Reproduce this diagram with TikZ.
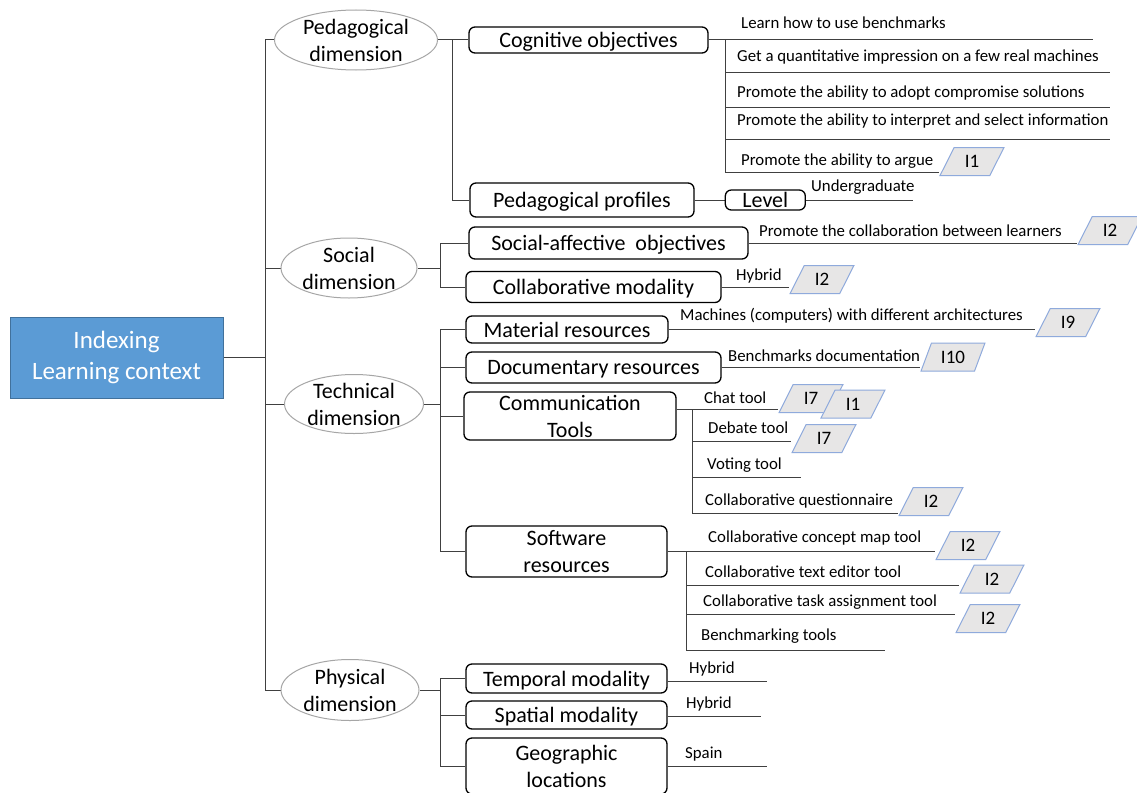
\documentclass[tikz,border=0pt]{standalone}
\usepackage{fontspec}
\setmainfont{Carlito}
\usetikzlibrary{positioning, shapes.geometric, backgrounds}
\definecolor{rootblue}{HTML}{5B9BD5}
\definecolor{rootedge}{HTML}{41719C}
\definecolor{lngray}{HTML}{404040}
\definecolor{ellgray}{HTML}{A6A6A6}
\definecolor{tagblue}{HTML}{8FAADC}
\definecolor{taggray}{HTML}{E7E6E6}
\newcommand{\fsR}{\fontsize{25}{31}\selectfont}
\newcommand{\fsB}{\fontsize{22}{27}\selectfont}
\newcommand{\fsS}{\fontsize{16.8}{20}\selectfont}
\newcommand{\fsT}{\fontsize{19}{22}\selectfont}
\tikzset{
  ln/.style      = {draw=lngray, line width=1pt},
  rootbox/.style = {rectangle, draw=rootedge, fill=rootblue, text=white, line width=1pt,
                    font=\fsR, align=center, inner sep=0pt, minimum width=213pt, minimum height=81pt},
  dimen/.style   = {ellipse, draw=ellgray, fill=white, line width=1pt, inner sep=0pt},
  dimtxt/.style  = {font=\fsB, align=center, inner sep=0pt},
  box/.style     = {draw=black, fill=white, rounded corners=6pt, line width=1.3pt, inner sep=0pt,
                    font=\fsB, align=center},
  box1/.style    = {box, text depth=0pt},
  itm/.style     = {anchor=west, font=\fsS, inner sep=0pt},
  tag/.style     = {trapezium, trapezium left angle=65, trapezium right angle=115,
                    trapezium stretches=true, draw=tagblue, fill=taggray, line width=1pt,
                    minimum width=64pt, minimum height=28pt, inner sep=0pt, font=\fsT},
}

\begin{document}
\begin{tikzpicture}[x=1pt, y=-1pt]
\useasboundingbox (0,0) rectangle (1137,792);
\clip (0,0) rectangle (1137,792);

% root and the four dimensions
\node[rootbox] (root) at (116.5,357.5) {Indexing\\Learning context};
\node[dimen, minimum width=163pt, minimum height=60pt,
      label={[dimtxt]center:Pedagogical\\dimension}] (ped)  at (356,40)  {};
\node[dimen, minimum width=136pt, minimum height=60pt,
      label={[dimtxt]center:Social\\dimension}]      (soc)  at (349,268) {};
\node[dimen, minimum width=139pt, minimum height=59pt,
      label={[dimtxt]center:Technical\\dimension}]   (tech) at (354,404) {};
\node[dimen, minimum width=138pt, minimum height=61pt,
      label={[dimtxt]center:Physical\\dimension}]    (phys) at (350,690) {};

% pedagogical
\node[box1, minimum width=239pt, minimum height=26pt] (cog)  at (588.5,40)  {Cognitive objectives};
\node[box1, minimum width=224pt, minimum height=34pt] (prof) at (582,200)   {Pedagogical profiles};
\node[box1, minimum width=80pt,  minimum height=20pt, right=30pt of prof] (lvl) {Level};
\node[itm] (cg1) at (741,23)  {Learn how to use benchmarks};
\node[itm] (cg2) at (737,57)  {Get a quantitative impression on a few real machines};
\node[itm] (cg3) at (737,93)  {Promote the ability to adopt compromise solutions};
\node[itm] (cg4) at (737,121) {Promote the ability to interpret and select information};
\node[itm] (cg5) at (741,161) {Promote the ability to argue};
\node[tag] (i1a) at (972,161.5) {I1};
\node[itm] (ug)  at (811,187) {Undergraduate};

% social
\node[box1, minimum width=279pt, minimum height=32pt] (sae)  at (608.5,243) {Social-affective\ \ objectives};
\node[box1, minimum width=255pt, minimum height=31pt] (cmod) at (593.5,287) {Collaborative modality};
\node[itm] (col) at (759,231) {Promote the collaboration between learners};
\node[tag] (i2a) at (1110,230.5) {I2};
\node[itm] (hyb) at (736,276) {Hybrid};
\node[tag] (i2b) at (822,279.5) {I2};

% technical
\node[box1, minimum width=202pt, minimum height=27pt] (mat)  at (567,329.5)   {Material resources};
\node[box1, minimum width=255pt, minimum height=31pt] (doc)  at (593.5,367.5) {Documentary resources};
\node[box, minimum width=212pt, minimum height=48pt]  (com)  at (570,416)     {Communication\\Tools};
\node[box, minimum width=201pt, minimum height=51pt]  (soft) at (566.5,551.5) {Software\\resources};
\node[itm] (mch) at (680,316) {Machines (computers) with different architectures};
\node[tag] (i9)  at (1068,322.5) {I9};
\node[itm] (bdc) at (728,356) {Benchmarks documentation};
\node[tag] (i10) at (953,357) {I10};
\node[itm] (cht) at (704,398) {Chat tool};
\node[tag] (i7a) at (811,398.5) {I7};
\node[tag] (i1b) at (853,404) {I1};
\node[itm] (dbt) at (708,428) {Debate tool};
\node[tag] (i7b) at (824,438.5) {I7};
\node[itm] (vot) at (707,465) {Voting tool};
\node[itm] (cqu) at (705,501) {Collaborative questionnaire};
\node[tag] (i2c) at (931,501.5) {I2};
\node[itm] (ccm) at (708,538) {Collaborative concept map tool};
\node[tag] (i2d) at (968,545.5) {I2};
\node[itm] (cte) at (705,572) {Collaborative text editor tool};
\node[tag] (i2e) at (992,579) {I2};
\node[itm] (cta) at (703,602) {Collaborative task assignment tool};
\node[tag] (i2f) at (988,618.5) {I2};
\node[itm] (bmt) at (701,636) {Benchmarking tools};

% physical
\node[box1, minimum width=201pt, minimum height=29pt] (temp) at (566.5,678.5) {Temporal modality};
\node[box1, minimum width=201pt, minimum height=28pt] (spat) at (566.5,715)   {Spatial modality};
\node[box, minimum width=201pt, minimum height=56pt]  (geo)  at (566.5,766)   {Geographic\\locations};
\node[itm] (hy1) at (689,669) {Hybrid};
\node[itm] (hy2) at (686,704) {Hybrid};
\node[itm] (spn) at (685,754) {Spain};

% trunks and free ends
\coordinate (mt)  at (265,40);
\coordinate (mb)  at (265,690);
\coordinate (pt)  at (452,40);
\coordinate (st)  at (440,243);
\coordinate (tt)  at (440,329.5);
\coordinate (ht)  at (440,678.5);
\coordinate (ct)  at (725,40);
\coordinate (c2)  at (725,72);
\coordinate (c3)  at (725,107);
\coordinate (c4)  at (725,139);
\coordinate (c5)  at (725,172);
\coordinate (ce1) at (1093,40);
\coordinate (ce2) at (1110,72);
\coordinate (ce3) at (1110,107);
\coordinate (ce4) at (1110,139);
\coordinate (ugx) at (913,200);
\coordinate (ktk) at (692,409);
\coordinate (kdb) at (692,441);
\coordinate (kvt) at (692,477);
\coordinate (kvx) at (801,477);
\coordinate (kqu) at (692,513);
\coordinate (wtk) at (686,551.5);
\coordinate (wte) at (686,585);
\coordinate (wta) at (686,614);
\coordinate (wbm) at (686,650);
\coordinate (wbx) at (885,650);
\coordinate (hx1) at (767,681);
\coordinate (hx2) at (761,716);
\coordinate (hx3) at (767,766);

\begin{scope}[on background layer]
\fill[white] (0,0) rectangle (1137,792);
\draw[ln] (root.east) -- (root.east -| mt);
\draw[ln] (mt) -- (mb);
\foreach \d in {ped,soc,tech,phys}
  \draw[ln] (mt |- \d.west) -- (\d.west);

\draw[ln] (ped.east) -- (pt) -- (pt |- prof.west) -- (prof.west);
\draw[ln] (pt) -- (cog.west);
\draw[ln] (cog.east) -- (ce1);
\draw[ln] (ct) -- (c5) -- (c5 -| i1a.bottom left corner);
\draw[ln] (c2) -- (ce2);
\draw[ln] (c3) -- (ce3);
\draw[ln] (c4) -- (ce4);
\draw[ln] (prof.east) -- (lvl.west);
\draw[ln] (lvl.east) -- (lvl.east -| ugx);

\draw[ln] (soc.east) -- (soc.east -| st);
\draw[ln] (st) -- (st |- cmod.west) -- (cmod.west);
\draw[ln] (st) -- (sae.west);
\draw[ln] (sae.east) -- (sae.east -| i2a.bottom left corner);
\draw[ln] (cmod.east) -- (cmod.east -| i2b.bottom left corner);

\draw[ln] (tech.east) -- (tech.east -| tt);
\draw[ln] (tt) -- (tt |- soft.west) -- (soft.west);
\draw[ln] (tt) -- (mat.west);
\draw[ln] (tt |- doc.west) -- (doc.west);
\draw[ln] (tt |- com.west) -- (com.west);
\draw[ln] (mat.east) -- (mat.east -| i9.bottom left corner);
\draw[ln] (doc.east) -- (doc.east -| i10.bottom left corner);
\draw[ln] (com.east |- ktk) -- (ktk -| i7a.bottom left corner);
\draw[ln] (ktk) -- (kqu) -- (kqu -| i2c.bottom left corner);
\draw[ln] (kdb) -- (kdb -| i7b.bottom left corner);
\draw[ln] (kvt) -- (kvx);
\draw[ln] (soft.east) -- (soft.east -| i2d.bottom left corner);
\draw[ln] (wtk) -- (wbm) -- (wbx);
\draw[ln] (wte) -- (wte -| i2e.bottom left corner);
\draw[ln] (wta) -- (wta -| i2f.bottom left corner);

\draw[ln] (phys.east) -- (phys.east -| ht);
\draw[ln] (ht) -- (ht |- geo.west) -- (geo.west);
\draw[ln] (ht) -- (temp.west);
\draw[ln] (ht |- spat.west) -- (spat.west);
\draw[ln] (temp.east |- hx1) -- (hx1);
\draw[ln] (spat.east |- hx2) -- (hx2);
\draw[ln] (geo.east |- hx3) -- (hx3);
\end{scope}
\end{tikzpicture}
\end{document}
